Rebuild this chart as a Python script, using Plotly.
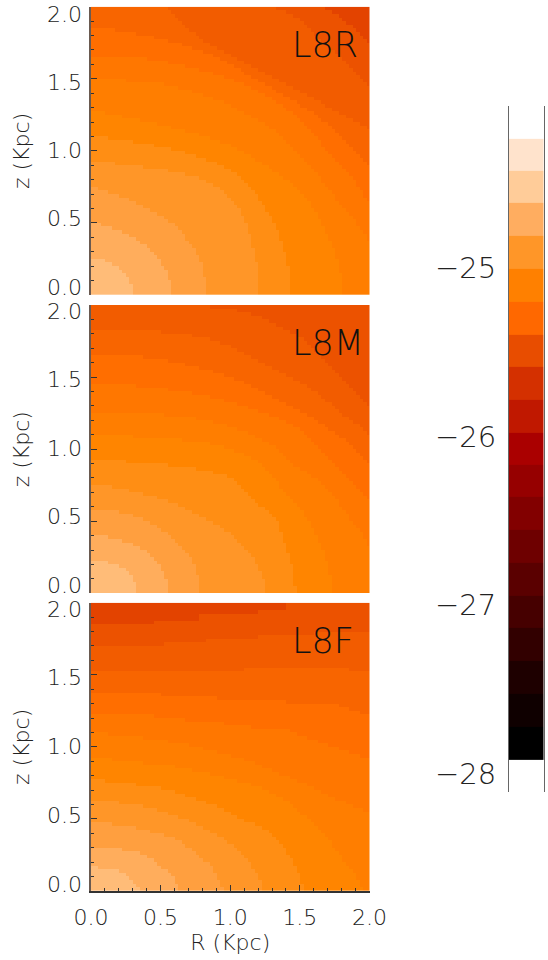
import numpy as np
import plotly.graph_objects as go

# band palette of the three maps, lightest (centre) to darkest
band_colors = ["#FFBC78", "#FFAD5C", "#FF9F3F", "#FF9628", "#FF8E14", "#FF8500", "#FF7E00",
               "#FF7700", "#FF6E00", "#F86500", "#F25C00", "#EC5200", "#E34300"]
band_log = [-24.5, -24.6, -24.7, -24.8, -24.9, -25.0, -25.1, -25.2, -25.3, -25.4, -25.5, -25.6, -25.7]

# L8R / L8M: for each contour, per row (z cell, from z=0), the number of R cells inside it
L8R_edges = [
    [12, 12, 12, 11, 11, 10, 9, 8, 6, 4],
    [23, 23, 23, 23, 22, 22, 22, 21, 20, 20, 19, 18, 17, 16, 14, 13, 11, 9, 6, 3],
    [33, 33, 33, 33, 33, 32, 32, 32, 32, 31, 31, 30, 30, 29, 28, 27, 27, 26, 25, 24, 22, 21, 19, 17, 15, 13, 11, 8, 5, 2],
    [48, 48, 48, 48, 48, 48, 48, 48, 48, 47, 47, 47, 47, 46, 46, 46, 46, 45, 45, 45, 44, 44, 43, 43, 42, 41, 40, 39, 38, 37, 35, 33, 31, 27, 22, 15, 7],
    [57] * 8 + [56, 56, 56, 56, 55, 55, 55, 54, 54, 54, 53, 53, 52, 52, 51, 50, 50, 49, 48, 48, 47, 46, 45, 44, 43, 42, 40, 38, 36, 33, 30, 27, 23, 18, 12, 5],
    [72, 72, 72, 72, 72, 72, 71, 71, 71, 71, 70, 70, 70, 69, 69, 68, 68, 67, 67, 66, 66, 65, 65, 64, 63, 63, 62, 61, 60, 59, 58, 57, 55, 54, 52, 51, 49, 47, 46, 44, 42, 40, 37, 34, 31, 27, 23, 19, 14, 9, 4],
    [80] * 15 + [79, 79, 78, 77, 76, 76, 75, 74, 73, 72, 71, 70, 70, 69, 68, 67, 66, 66, 65, 64, 63, 62, 61, 60, 59, 58, 57, 56, 55, 54, 53, 51, 50, 48, 46, 44, 42, 40, 38, 35, 32, 29, 25, 21, 10],
    [80] * 26 + [79, 78, 78, 77, 76, 76, 75, 74, 73, 72, 71, 70, 69, 68, 67, 66, 66, 65, 64, 63, 62, 61, 60, 59, 58, 56, 55, 53, 52, 50, 48, 46, 44, 41, 38, 35, 31, 27, 22, 16],
    [80] * 36 + [79, 78, 77, 76, 75, 74, 73, 72, 71, 70, 69, 68, 66, 65, 64, 62, 60, 59, 57, 55, 53, 52, 50, 48, 46, 44, 43, 41, 39, 37, 35, 32, 29, 26, 22, 18, 13, 7],
    [80] * 46 + [79, 77, 75, 73, 71, 69, 67, 66, 64, 62, 60, 58, 56, 54, 52, 50, 48, 46, 44, 42, 40, 38, 36, 34, 32, 31, 30, 28, 27, 26, 25, 24, 23, 22],
    [80] * 58 + [79, 78, 77, 76, 75, 74, 73, 72, 71, 70, 68, 67, 66, 65, 64, 63, 62, 61, 60, 58, 56, 53],
    [80] * 70 + [79, 78, 77, 76, 75, 73, 72, 71, 69, 67],
]
L8M_edges = [
    [13, 13, 13, 12, 12, 11, 10, 8, 5],
    [22, 22, 22, 22, 21, 21, 20, 20, 19, 18, 17, 16, 14, 12, 9, 5],
    [31, 31, 31, 31, 31, 30, 30, 30, 29, 29, 28, 27, 26, 25, 24, 23, 22, 20, 19, 17, 15, 12, 8],
    [50, 50, 50, 50, 49, 49, 48, 48, 47, 47, 46, 45, 44, 43, 42, 41, 40, 38, 37, 35, 33, 31, 29, 27, 25, 22, 19, 15, 11, 6],
    [59, 59, 58, 58, 58, 58, 58, 58, 57, 57, 57, 56, 56, 56, 55, 55, 55, 54, 54, 54, 53, 52, 51, 50, 48, 47, 46, 45, 44, 43, 42, 41, 39, 35, 30, 22, 10],
    [69, 69, 69, 69, 69, 68, 68, 68, 68, 67, 67, 67, 66, 66, 65, 65, 64, 64, 63, 63, 62, 61, 61, 60, 59, 58, 57, 56, 55, 54, 54, 53, 52, 51, 50, 49, 48, 46, 44, 41, 38, 34, 26, 12],
    [80] * 13 + [79, 79, 78, 78, 77, 76, 75, 74, 74, 73, 72, 71, 71, 70, 69, 68, 67, 66, 65, 63, 62, 60, 58, 57, 56, 55, 54, 53, 51, 49, 47, 45, 42, 39, 35, 30, 21],
    [80] * 26 + [79, 78, 77, 76, 75, 74, 73, 72, 71, 70, 69, 68, 67, 66, 65, 64, 63, 62, 61, 60, 58, 56, 54, 51, 48, 45, 42, 38, 34, 29, 22, 13],
    [80] * 36 + [79, 78, 77, 76, 75, 74, 73, 71, 70, 68, 67, 65, 64, 62, 60, 58, 56, 54, 52, 50, 48, 46, 44, 41, 38, 35, 31, 27, 22, 15],
    [80] * 44 + [79, 78, 77, 75, 74, 72, 71, 70, 69, 67, 66, 65, 63, 62, 60, 58, 56, 54, 52, 50, 48, 46, 44, 42, 40, 37, 34, 29, 20],
    [80] * 52 + [79, 78, 77, 76, 75, 74, 73, 72, 71, 70, 69, 68, 67, 66, 65, 64, 63, 62, 61, 59, 57, 55, 53, 51, 49, 46, 42, 34],
]
# L8F: for each contour, per column (R cell, from R=0), the number of z cells inside it
L8F_edges = [
    [7, 7, 6, 6, 6, 6, 6, 6, 5, 5, 4, 3, 2, 1],
    [12, 12, 12, 12, 12, 12, 12, 12, 12, 11, 11, 11, 11, 11, 10, 10, 9, 9, 8, 7, 6, 6, 5, 4, 2],
    [19, 19, 19, 19, 19, 19, 18, 18, 18, 18, 18, 18, 18, 17, 17, 17, 17, 16, 16, 16, 16, 15, 15, 15, 14, 14, 13, 12, 12, 11, 10, 9, 8, 8, 7, 5, 3, 1],
    [25] * 8 + [24] * 7 + [23] * 4 + [22] * 3 + [21] * 3 + [20] * 3 + [19] * 2 + [18] * 2 + [17] * 2 + [16] * 2 + [15] * 2 + [14, 13, 13, 12, 11, 10, 9, 8, 6, 5, 3],
    [31] * 4 + [30] * 9 + [29] * 7 + [28] * 4 + [27] * 3 + [26] * 3 + [25] * 3 + [24] * 3 + [23] * 2 + [22] * 2 + [21] * 2 + [20] * 2 + [19] * 3 + [18, 18, 17, 17, 16, 15, 14, 13, 12, 10, 9, 7, 5, 2],
    [37] * 6 + [36] * 9 + [35] * 9 + [34] * 5 + [33] * 5 + [32] * 4 + [31] * 4 + [30] * 4 + [29] * 3 + [28] * 2 + [27] * 2 + [26] * 2 + [25] * 2 + [24, 23, 22, 21, 21, 20, 19, 18, 17, 16, 15, 14, 12, 11, 10, 8, 7, 6, 5, 3, 1],
    [44] * 5 + [43] * 10 + [42] * 7 + [41] * 6 + [40] * 4 + [39] * 4 + [38] * 4 + [37] * 4 + [36] * 3 + [35] * 2 + [34] * 3 + [33] * 2 + [32] * 3 + [31] * 2 + [30] * 3 + [29] * 2 + [28] * 2 + [27] * 2 + [26] * 2 + [25] * 3 + [24] * 2 + [23] * 3 + [22] * 2,
    [49] * 18 + [48] * 9 + [47] * 11 + [46] * 8 + [45] * 11 + [44] * 2 + [43] * 3 + [42] * 3 + [41] * 3 + [40] * 3 + [39] * 3 + [38] * 3 + [37] * 3,
    [55] * 20 + [54] * 16 + [53] * 20 + [52] * 15 + [51] * 3 + [50] * 3 + [49] * 3,
    [61] * 44 + [62] * 30 + [61] * 6,
    [68] * 21 + [69] * 12 + [70] * 15 + [71] * 16 + [72] * 16,
    [74] * 18 + [75] * 13 + [77] * 17 + [78] * 8 + [80] * 24,
]
panel_names = ["L8R", "L8M", "L8F"]
axis_ticks = [0.0, 0.5, 1.0, 1.5, 2.0]
axis_ticktext = ["0.0", "0.5", "1.0", "1.5", "2.0"]

# colour bar bands, bottom to top
cbar_values = [-28.01, -27.82, -27.62, -27.43, -27.23, -27.04, -26.85, -26.65, -26.46, -26.26, -26.07,
               -25.88, -25.68, -25.49, -25.30, -25.10, -24.91, -24.71, -24.52, -24.33, -24.14]
cbar_colors = ["#FFFFFF", "#000000", "#0F0000", "#1E0000", "#320000", "#460000", "#5A0000", "#6E0000",
               "#820000", "#960000", "#AA0000", "#C01800", "#D43000", "#E84D00", "#FF6800", "#FF8000",
               "#FF9628", "#FFAD60", "#FFCC99", "#FFE3CC", "#FFFFFF"]
cbar_ticks = [-28, -27, -26, -25]
cbar_ticktext = ["\u221228", "\u221227", "\u221226", "\u221225"]

W, H = 548, 960
FONT = "DejaVu Sans ExtraLight, DejaVu Sans Light, Lato"
TXT = "#222222"
N = 80


def step_scale(colors):
    n = len(colors)
    out = []
    for i, c in enumerate(colors):
        out += [[i / n, c], [(i + 1) / n, c]]
    return out


def levels_by_row(edges):
    g = np.zeros((N, N), dtype=int)
    for e in edges:
        for r in range(N):
            lim = e[r] if r < len(e) else 0
            g[r, lim:] += 1
    return g


def levels_by_col(edges):
    g = np.zeros((N, N), dtype=int)
    for e in edges:
        for c in range(N):
            lim = e[c] if c < len(e) else 0
            g[lim:, c] += 1
    return g


grids = [levels_by_row(L8R_edges), levels_by_row(L8M_edges), levels_by_col(L8F_edges)]
# pixel extents (top, bottom) of the panels and of their y labels
panel_px = [(6.7, 295), (305, 593.3), (602.7, 891)]
label_px = [(14, 287), (311, 585), (609, 884)]
X0, X1 = 91, 369.5
annot_y = [1.735, 1.735, 1.735]

fig = go.Figure()
layout = {}
rev = np.array(band_log)
scale = step_scale(band_colors[::-1])
for i, g in enumerate(grids):
    n = "" if i == 0 else str(i + 1)
    z = rev[g].tolist()
    fig.add_trace(go.Heatmap(x0=1.0 / N, dx=2.0 / N, y0=1.0 / N, dy=2.0 / N, z=z, colorscale=scale,
                             zmin=-25.75, zmax=-24.45, showscale=False,
                             xaxis="x" + n, yaxis="y" + n, hoverinfo="skip"))
    top, bot = panel_px[i]
    layout["xaxis" + n] = dict(domain=[X0 / W, X1 / W], range=[0, 2], anchor="y" + n, automargin=False,
                               showgrid=False, zeroline=False, showline=i == 2,
                               linecolor="#333333", linewidth=1.5,
                               ticks="inside" if i == 2 else "", ticklen=6, tickcolor="#333333", tickwidth=1,
                               tickvals=axis_ticks, ticktext=axis_ticktext,
                               showticklabels=i == 2, ticklabelstandoff=6,
                               tickfont=dict(family=FONT, size=22, color=TXT),
                               minor=dict(dtick=0.1, ticks="inside" if i == 2 else "", ticklen=3,
                                          tickcolor="#333333", tickwidth=1),
                               title=dict(text="R (Kpc)" if i == 2 else "", standoff=5,
                                          font=dict(family=FONT, size=22, color=TXT)))
    layout["yaxis" + n] = dict(domain=[1 - bot / H, 1 - top / H], range=[0, 2], anchor="x" + n, automargin=False,
                               showgrid=False, zeroline=False, showline=True,
                               linecolor="#6a5a50", linewidth=1.5,
                               ticks="inside", ticklen=6, tickcolor="#333333", tickwidth=1,
                               tickvals=axis_ticks, showticklabels=False,
                               minor=dict(dtick=0.1, ticks="inside", ticklen=3, tickcolor="#333333", tickwidth=1),
                               title=dict(text="z (Kpc)", standoff=54,
                                          font=dict(family=FONT, size=22, color=TXT)))
    fig.add_annotation(x=1.43, y=annot_y[i], xref="x" + n, yref="y" + n, text=panel_names[i],
                       showarrow=False, xanchor="left", yanchor="middle",
                       font=dict(family=FONT, size=35, color="#111111"))
    # y tick labels sit on their own axis, compressed inside the frame like the original
    m = str(i + 5)
    lt, lb = label_px[i]
    fig.add_trace(go.Scatter(x=[0, 2], y=[0, 2], mode="markers", marker=dict(opacity=0),
                             xaxis="x" + n, yaxis="y" + m, hoverinfo="skip", showlegend=False))
    layout["yaxis" + m] = dict(domain=[1 - lb / H, 1 - lt / H], range=[0, 2], anchor="x" + n, automargin=False,
                               showgrid=False, zeroline=False, showline=False, ticks="",
                               tickvals=axis_ticks, ticktext=axis_ticktext, ticklabelstandoff=8,
                               tickfont=dict(family=FONT, size=22, color=TXT))

# colour bar
fig.add_trace(go.Heatmap(x=[0.5], y=cbar_values, z=[[v] for v in cbar_values],
                         colorscale=step_scale(cbar_colors), zmin=-28.107, zmax=-24.04,
                         showscale=False, xaxis="x4", yaxis="y4", hoverinfo="skip"))
layout["xaxis4"] = dict(domain=[509 / W, 543.5 / W], range=[0, 1], anchor="y4", visible=False, automargin=False)
layout["yaxis4"] = dict(domain=[1 - 792 / H, 1 - 106 / H], range=[-28.107, -24.04], anchor="x4", automargin=False,
                        showgrid=False, zeroline=False, showline=True, mirror=True,
                        linecolor="#666666", linewidth=1, ticks="",
                        tickvals=cbar_ticks, ticktext=cbar_ticktext, ticklabelstandoff=6,
                        tickfont=dict(family=FONT, size=29, color=TXT))

fig.update_layout(template="none", width=W, height=H, margin=dict(l=0, r=0, t=0, b=0), showlegend=False,
                  paper_bgcolor="white", plot_bgcolor="rgba(0,0,0,0)", autosize=False, **layout)
fig.write_html("out.html", config=dict(displayModeBar=False), post_script="document.body.style.margin='0';")
